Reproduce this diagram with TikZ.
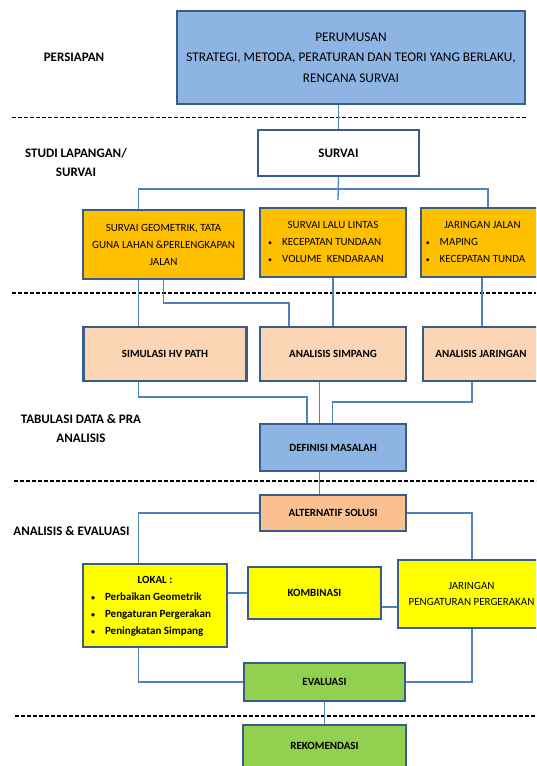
\documentclass[tikz,border=0pt]{standalone}
\usepackage{fontspec}
\setmainfont{Carlito}
\definecolor{boxline}{HTML}{385D8A}
\definecolor{linkblue}{HTML}{4F81BD}
\definecolor{topblue}{HTML}{8EB4E3}
\definecolor{survorange}{HTML}{FFC000}
\definecolor{peach}{HTML}{FCD5B5}
\definecolor{altorange}{HTML}{FAC090}
\definecolor{solyellow}{HTML}{FFFF00}
\definecolor{evgreen}{HTML}{92D050}
\newcommand{\dotitem}{{\fontsize{8}{8}\selectfont\textbullet}}
\begin{document}
\begin{tikzpicture}[x=1pt,y=-1pt,
	box/.style={draw=boxline,line width=2.4pt,inner sep=0pt,align=center,text=black,font=\fontsize{11}{17}\selectfont},
	boxb/.style={box,font=\fontsize{11}{17}\selectfont\bfseries},
	link/.style={draw=linkblue,line width=1.3pt},
	phase/.style={font=\fontsize{13}{19}\selectfont\bfseries,align=center},
	phaseline/.style={dash pattern=on 4pt off 2pt,line width=1.6pt}]

	\useasboundingbox (0,0) rectangle (536,766);
	\clip (0,0) rectangle (536,766);

	\draw[phaseline] (12,117.5) -- (526.5,117.5);
	\draw[phaseline] (12,293) -- (536,293);
	\draw[phaseline] (14,481) -- (536,481);
	\draw[phaseline] (15,716) -- (536,716);

	\node[phase] (persiapan) at (74,57){PERSIAPAN};
	\node[phase] (studi) at (76,162.5){STUDI LAPANGAN/\\SURVAI};
	\node[phase] (tabulasi) at (81,428.5){TABULASI DATA \& PRA\\ANALISIS};
	\node[phase] (analisis) at (71.5,531){ANALISIS \& EVALUASI};

	\node[box,fill=topblue,minimum width=348pt,minimum height=93pt,font=\fontsize{13.3}{20.5}\selectfont] (perumusan) at (351,57.5){PERUMUSAN\\STRATEGI, METODA, PERATURAN DAN TEORI YANG BERLAKU,\\RENCANA SURVAI};
	\node[box,fill=white,minimum width=161pt,minimum height=46pt,font=\fontsize{13}{17}\selectfont\bfseries] (survai) at (338.5,153){SURVAI};

	\node[box,fill=survorange,minimum width=161pt,minimum height=69pt] (geometrik) at (163.5,244.5){SURVAI GEOMETRIK, TATA\\GUNA LAHAN \&PERLENGKAPAN\\JALAN};
	\node[box,fill=survorange,minimum width=146pt,minimum height=69pt] (lalulintas) at (333,242.5){\begin{tabular}{@{}c@{\hspace{10pt}}l@{\hspace{14pt}}}\multicolumn{2}{@{}c@{}}{SURVAI LALU LINTAS}\\ \dotitem & KECEPATAN TUNDAAN\\ \dotitem & VOLUME\ \ KENDARAAN\end{tabular}};
	\node[box,fill=survorange,minimum width=123pt,minimum height=69pt] (jarjalan) at (482.5,242.5){\begin{tabular}{@{}c@{\hspace{10pt}}l@{\hspace{14pt}}}\multicolumn{2}{@{}c@{}}{JARINGAN JALAN}\\ \dotitem & MAPING\\ \dotitem & KECEPATAN TUNDA\end{tabular}};

	\node[boxb,fill=peach,minimum width=163pt,minimum height=54pt] (hvpath) at (165,354){SIMULASI HV PATH};
	\node[boxb,fill=peach,minimum width=146pt,minimum height=54pt] (simpang) at (333,354){ANALISIS SIMPANG};
	\node[boxb,fill=peach,minimum width=116pt,minimum height=54pt] (anjaringan) at (481,354){ANALISIS JARINGAN};

	\node[boxb,fill=topblue,minimum width=146pt,minimum height=47pt] (definisi) at (333,447.5){DEFINISI MASALAH};
	\node[boxb,fill=altorange,minimum width=146pt,minimum height=36pt] (alternatif) at (333,513){ALTERNATIF SOLUSI};

	\node[boxb,fill=solyellow,minimum width=144pt,minimum height=83pt] (lokal) at (155,605.5){\begin{tabular}{@{}c@{\hspace{10pt}}l@{\hspace{8pt}}}\multicolumn{2}{@{}c@{}}{LOKAL :}\\ \dotitem & Perbaikan Geometrik\\ \dotitem & Pengaturan Pergerakan\\ \dotitem & Peningkatan Simpang\end{tabular}};
	\node[boxb,fill=solyellow,minimum width=133pt,minimum height=52pt] (kombinasi) at (314.5,593){KOMBINASI};
	\node[box,fill=solyellow,minimum width=147pt,minimum height=68pt,font=\fontsize{11}{16}\selectfont] (jaringan) at (471.5,594){JARINGAN\\PENGATURAN PERGERAKAN};

	\node[boxb,fill=evgreen,minimum width=161pt,minimum height=38pt] (evaluasi) at (324.5,682){EVALUASI};
	\node[boxb,fill=evgreen,minimum width=163pt,minimum height=42pt] (rekomendasi) at (324.5,746){REKOMENDASI};

	\coordinate (xa) at (138.5,189);
	\coordinate (xc) at (488,189);
	\coordinate (survend) at (338,200);
	\coordinate (ga) at (163.5,303);
	\coordinate (gb) at (289,303);
	\coordinate (jx) at (482,300);
	\coordinate (ha) at (138.5,397);
	\coordinate (hb) at (307,397);
	\coordinate (mx) at (319.5,400);
	\coordinate (ja) at (472,402);
	\coordinate (jb) at (332.5,402);
	\coordinate (kx) at (390,607);

	\draw[link] (perumusan.south -| survai.north) -- (survai.north);
	\draw[link] (survai.south) -- (survend);
	\draw[link] (geometrik.north -| xa) -- (xa) -- (xc) -- (jarjalan.north -| xc);
	\draw[link] (geometrik.south -| xa) -- (hvpath.north -| xa);
	\draw[link] (geometrik.south -| ga) -- (ga) -- (gb) -- (simpang.north -| gb);
	\draw[link] (lalulintas.south) -- (simpang.north);
	\draw[link] (jarjalan.south -| jx) -- (anjaringan.north -| jx);
	\draw[link] (hvpath.south -| ha) -- (ha) -- (hb) -- (definisi.north -| hb);
	\draw[link] (simpang.south -| mx) -- (definisi.north -| mx);
	\draw[link] (anjaringan.south -| ja) -- (ja) -- (jb) -- (definisi.north -| jb);
	\draw[link] (definisi.south -| mx) -- (alternatif.north -| mx);
	\draw[link] (alternatif.west) -| (lokal.north -| xa);
	\draw[link] (alternatif.east) -| (jaringan.north -| ja);
	\draw[link] (lokal.east |- kombinasi.west) -- (kombinasi.west);
	\draw[link] (kombinasi.east |- kx) -- (jaringan.west |- kx);
	\draw[link] (lokal.south -| xa) |- (evaluasi.west);
	\draw[link] (jaringan.south -| ja) |- (evaluasi.east);
	\draw[link] (evaluasi.south) -- (rekomendasi.north);
\end{tikzpicture}
\end{document}
